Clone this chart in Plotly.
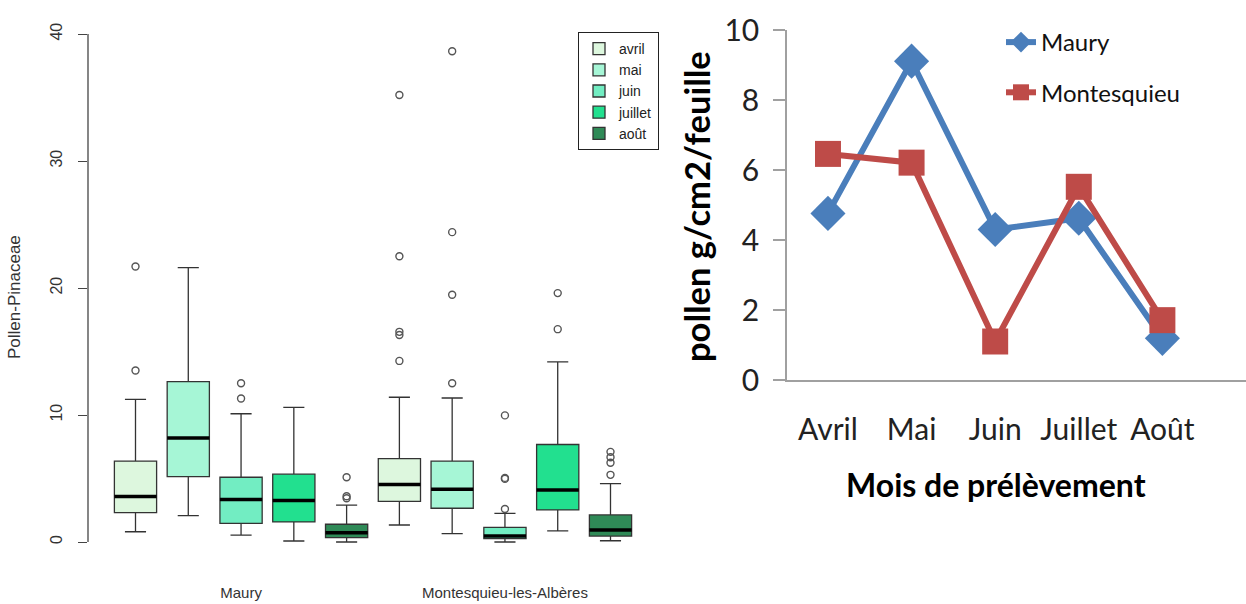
import plotly.graph_objects as go

# ---------------- data: left boxplot (Pollen-Pinaceae) ----------------
box_months = ["avril", "mai", "juin", "juillet", "août"]
box_sites = ["Maury", "Montesquieu-les-Albères"]
box_colors = ["#DDF7DE", "#A6F6D6", "#72EDC2", "#22E08F", "#2F8A57"]

# order: Maury avril..août, then Montesquieu avril..août
q1 = [2.31, 5.15, 1.47, 1.58, 0.34, 3.20, 2.66, 0.26, 2.53, 0.47]
med = [3.58, 8.20, 3.34, 3.26, 0.73, 4.52, 4.16, 0.47, 4.10, 0.95]
q3 = [6.37, 12.63, 5.10, 5.34, 1.40, 6.57, 6.37, 1.16, 7.68, 2.13]
whisk_lo = [0.81, 2.08, 0.55, 0.08, 0.00, 1.34, 0.66, 0.00, 0.87, 0.10]
whisk_hi = [11.23, 21.6, 10.1, 10.6, 2.90, 11.40, 11.34, 2.26, 14.18, 4.60]
outliers = [
    [13.5, 21.7], [], [11.3, 12.5], [], [3.45, 3.6, 5.1],
    [14.26, 16.3, 16.55, 22.5, 35.2], [12.5, 19.47, 24.4, 38.65],
    [2.6, 4.97, 5.05, 9.97], [16.76, 19.6], [5.29, 6.24, 6.68, 7.1],
]

# ---------------- data: right line chart ----------------
line_months = ["Avril", "Mai", "Juin", "Juillet", "Août"]
maury = [4.76, 9.11, 4.30, 4.62, 1.19]
montesquieu = [6.46, 6.21, 1.10, 5.52, 1.71]

fig = go.Figure()

nm = len(box_months)
BW = 0.8
LEFT_FONT = "Liberation Sans, Arial, sans-serif"
RIGHT_FONT = "Lato, Carlito, Calibri, sans-serif"

# boxes: one trace per month (two sites)
for m, (mon, col) in enumerate(zip(box_months, box_colors)):
    idx = [m + s * nm for s in range(len(box_sites))]
    pos = [i + 1 for i in idx]
    fig.add_trace(go.Box(
        x=pos,
        q1=[q1[i] for i in idx], median=[med[i] for i in idx], q3=[q3[i] for i in idx],
        lowerfence=[whisk_lo[i] for i in idx], upperfence=[whisk_hi[i] for i in idx],
        name=mon, fillcolor=col, line=dict(color="#333333", width=1.3),
        width=BW, whiskerwidth=0.5, boxpoints=False,
        xaxis="x", yaxis="y", legend="legend2", hoverinfo="skip",
    ))

# thick medians
mx, my = [], []
for i, v in enumerate(med):
    mx += [i + 1 - BW / 2, i + 1 + BW / 2, None]
    my += [v, v, None]
fig.add_trace(go.Scatter(x=mx, y=my, mode="lines", line=dict(color="#000000", width=3.5),
                         showlegend=False, xaxis="x", yaxis="y", hoverinfo="skip"))

# outliers
ox, oy = [], []
for i, vals in enumerate(outliers):
    for v in vals:
        ox.append(i + 1)
        oy.append(v)
fig.add_trace(go.Scatter(x=ox, y=oy, mode="markers",
                         marker=dict(symbol="circle-open", size=7, color="#555555",
                                     line=dict(width=1.4, color="#555555")),
                         showlegend=False, xaxis="x", yaxis="y", hoverinfo="skip"))

# right line chart
fig.add_trace(go.Scatter(x=line_months, y=maury, name="Maury", mode="lines+markers",
                         line=dict(color="#4A7EBB", width=6),
                         marker=dict(symbol="diamond", size=27, color="#4A7EBB"),
                         xaxis="x2", yaxis="y2", legend="legend", legendgroup="a"))
fig.add_trace(go.Scatter(x=line_months, y=montesquieu, name="Montesquieu", mode="lines+markers",
                         line=dict(color="#BE4B48", width=6),
                         marker=dict(symbol="square", size=26, color="#BE4B48"),
                         xaxis="x2", yaxis="y2", legend="legend", legendgroup="b"))

W, H = 1246, 604
fig.update_layout(
    width=W, height=H,
    margin=dict(l=0, r=0, t=0, b=0),
    paper_bgcolor="white", plot_bgcolor="white",
    boxmode="overlay",
    xaxis=dict(domain=[88 / W, 658 / W], range=[0.1, 10.9], anchor="y", automargin=False,
               showgrid=False, zeroline=False,
               showline=False, ticks="", tickvals=[3, 8], ticktext=box_sites,
               ticklabelstandoff=20,
               tickfont=dict(family=LEFT_FONT, size=15, color="#333333")),
    yaxis=dict(domain=[1 - 561.7 / H, 1 - 31.5 / H], range=[-1.55, 40.2], anchor="x",
               automargin=False, showgrid=False,
               zeroline=False, showline=False, ticks="outside", ticklen=9, tickwidth=1.2,
               tickcolor="#444444", tickvals=[0, 10, 20, 30, 40], tickangle=-90,
               ticklabelstandoff=10,
               tickfont=dict(family=LEFT_FONT, size=16, color="#333333")),
    xaxis2=dict(domain=[787 / W, 1.0], type="category", range=[-0.49, 5.0], anchor="y2",
                automargin=False, showgrid=False,
                zeroline=False, showline=True, linecolor="#A0A0A0", linewidth=2, ticks="",
                ticklabelstandoff=22,
                tickfont=dict(family=RIGHT_FONT, size=30, color="#222222")),
    yaxis2=dict(domain=[1 - 380 / H, 1 - 30 / H], range=[0, 10], anchor="x2",
                automargin=False, showgrid=False,
                zeroline=False, showline=True, linecolor="#A0A0A0", linewidth=1.5,
                ticks="outside", ticklen=12, tickcolor="#A0A0A0", tickwidth=1.5,
                dtick=2, ticklabelstandoff=8,
                tickfont=dict(family=RIGHT_FONT, size=30, color="#222222")),
    legend=dict(x=1001 / W, y=1 - 20 / H, xanchor="left", yanchor="top",
                bgcolor="rgba(0,0,0,0)", borderwidth=0, tracegroupgap=16,
                font=dict(family=RIGHT_FONT, size=24, color="#111111")),
    legend2=dict(x=659 / W, y=1 - 32 / H, xanchor="right", yanchor="top",
                 bgcolor="white", bordercolor="#222222", borderwidth=1,
                 tracegroupgap=0, itemwidth=30,
                 font=dict(family=LEFT_FONT, size=14, color="#222222")),
    shapes=[dict(type="line", xref="x domain", yref="y", x0=0, x1=0, y0=0, y1=40,
                 line=dict(color="#444444", width=1.3))],
    annotations=[
        dict(text="Pollen-Pinaceae", x=14 / W, y=1 - 297 / H, xref="paper", yref="paper",
             showarrow=False, textangle=-90, xanchor="center", yanchor="middle",
             font=dict(family=LEFT_FONT, size=17, color="#333333")),
        dict(text="<b>pollen g/cm2/feuille</b>", x=696 / W, y=1 - 206 / H, xref="paper", yref="paper",
             showarrow=False, textangle=-90, xanchor="center", yanchor="middle",
             font=dict(family=RIGHT_FONT, size=34.5, color="#000000")),
        dict(text="<b>Mois de prélèvement</b>", x=996 / W, y=1 - 484 / H, xref="paper", yref="paper",
             showarrow=False, xanchor="center", yanchor="middle",
             font=dict(family=RIGHT_FONT, size=32, color="#000000")),
    ],
)

fig.write_html("out.html", config={"displayModeBar": False},
               post_script="document.body.style.margin='0';")
